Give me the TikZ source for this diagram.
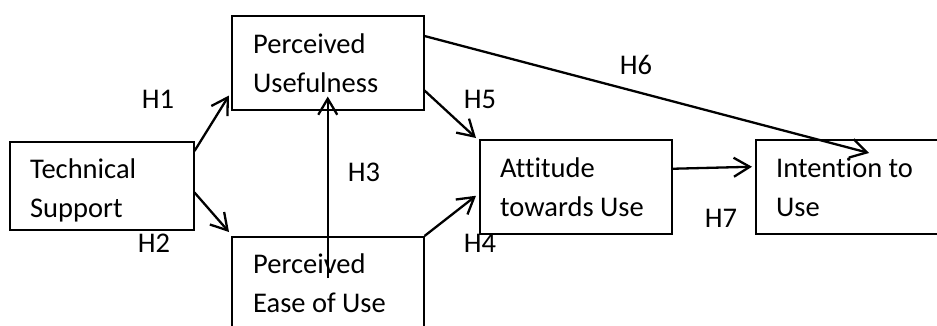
\documentclass[tikz,border=0pt]{standalone}
\usepackage{fontspec}
\setmainfont{Carlito}[Ligatures=NoCommon]
\usepackage{tikz}
\usetikzlibrary{arrows.meta,calc,positioning}
\tikzset{box/.style={draw,line width=1.5pt,rectangle,minimum width=192pt,minimum height=94pt,anchor=north west,inner sep=0pt},
	boxtext/.style={anchor=base west,align=left,inner sep=0pt,font=\fontsize{28.5}{39}\selectfont},
	hyp/.style={inner sep=0pt,font=\fontsize{28.5}{34}\selectfont}}

\begin{document}
\begin{tikzpicture}[x=1pt,y=-1pt,line width=2.3pt,>={Straight Barb[length=16pt,width=19pt]}]
	\useasboundingbox (0,0) rectangle (937,325);
	\clip (0,0) rectangle (937,325);
	
	\node[box,minimum width=184pt,minimum height=88pt] (ts) at (9,141) {};
	\node[box] (pu) at (231,15) {};
	\node[box] (peou) at (231,236) {};
	\node[box] (att) at (479,139) {};
	\node[box,minimum width=200pt] (itu) at (755,139) {};
	
	% base is the second line
	\node[boxtext] (tstext) at ([xshift=20pt,yshift=-76pt]ts.north west) {Technical\\Support};
	\node[boxtext] (putext) at ([xshift=21pt,yshift=-77pt]pu.north west) {Perceived\\Usefulness};
	\node[boxtext] (peoutext) at ([xshift=21pt,yshift=-76pt]peou.north west) {Perceived\\Ease of Use};
	\node[boxtext] (atttext) at ([xshift=20pt,yshift=-77pt]att.north west) {Attitude\\towards Use};
	\node[boxtext] (itutext) at ([xshift=20pt,yshift=-77pt]itu.north west) {Intention to\\Use};
	
	%	hypotheses
	\node[hyp] (h1) at (158,99) {H1};
	\node[hyp] (h2) at (154,243) {H2};
	\node[hyp] (h3) at (364,172) {H3};
	\node[hyp] (h4) at (480,243) {H4};
	\node[hyp] (h5) at (480,99) {H5};
	\node[hyp] (h6) at (636,65) {H6};
	\node[hyp] (h7) at (721,218) {H7};
	
	\path[->]
	([yshift=-10pt]ts.north east) edge ([xshift=-2pt,yshift=15pt]pu.south west)
	([yshift=38pt]ts.south east) edge ([xshift=-2pt,yshift=4pt]peou.north west)
	([yshift=-42pt]peou.north) edge ([yshift=14pt]pu.south)
	;
	
	\path[->]
	([yshift=20pt]pu.south east) edge ([xshift=-3pt,yshift=1pt]att.north west)
	(peou.north east) edge ([xshift=-3pt,yshift=-9pt]att.west)
	([yshift=-21pt]pu.north east) edge ([xshift=114pt,yshift=-14pt]itu.north west)
	([yshift=18pt]att.east) edge ([xshift=-3pt,yshift=20pt]itu.west)
	;
\end{tikzpicture}
\end{document}
